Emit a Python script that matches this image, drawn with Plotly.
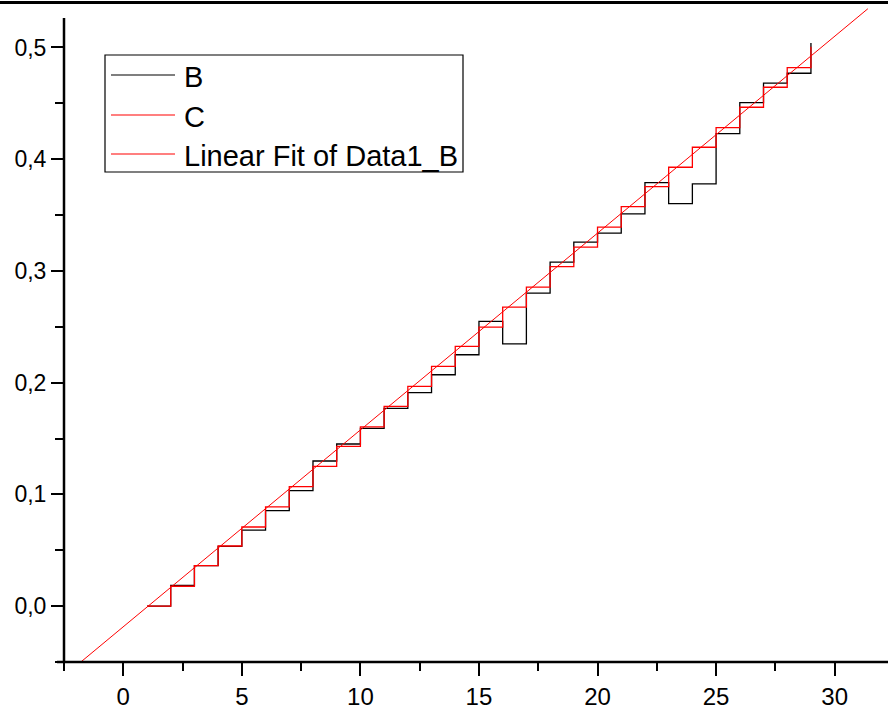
import numpy as np
import plotly.graph_objects as go

# ---- data ----
x_vals = list(range(1, 30))
b_vals = [0.000, 0.0185, 0.0362, 0.0535, 0.0680, 0.0855, 0.1033, 0.1299, 0.1451, 0.1590,
          0.1770, 0.1910, 0.2071, 0.2250, 0.2548, 0.2348, 0.2801, 0.3079, 0.3258, 0.3338,
          0.3511, 0.3791, 0.3603, 0.3779, 0.4229, 0.4506, 0.4680, 0.4769, 0.5040]
c_vals = [0.000, 0.0178, 0.0362, 0.0538, 0.0708, 0.0888, 0.1069, 0.1250, 0.1430, 0.1605,
          0.1787, 0.1966, 0.2145, 0.2324, 0.2497, 0.2676, 0.2855, 0.3039, 0.3213, 0.3392,
          0.3576, 0.3755, 0.3928, 0.4107, 0.4283, 0.4465, 0.4644, 0.4820, 0.5007]
fit_x_range = [-2.5, 31.4]

x_tick_vals = [0, 5, 10, 15, 20, 25, 30]
x_tick_text = ["0", "5", "10", "15", "20", "25", "30"]
y_tick_vals = [0.0, 0.1, 0.2, 0.3, 0.4, 0.5]
y_tick_text = ["0,0", "0,1", "0,2", "0,3", "0,4", "0,5"]

legend_names = ["B", "C", "Linear Fit of Data1_B"]

x_range = [-2.5, 32.25]
y_range = [-0.05, 0.538]
y_axis_top = 0.5264

# linear fit of B
slope, intercept = np.polyfit(x_vals, b_vals, 1)
fit_x = np.array(fit_x_range)
fit_y = slope * fit_x + intercept

fig = go.Figure()
fig.add_trace(go.Scatter(x=x_vals, y=b_vals, mode="lines", line_shape="hv",
                         line=dict(color="black", width=1.3), name=legend_names[0],
                         showlegend=False))
fig.add_trace(go.Scatter(x=x_vals, y=c_vals, mode="lines", line_shape="hv",
                         line=dict(color="#ff0000", width=1.3), name=legend_names[1],
                         showlegend=False))
fig.add_trace(go.Scatter(x=fit_x, y=fit_y, mode="lines",
                         line=dict(color="#ff0000", width=1), name=legend_names[2],
                         showlegend=False))

W, H = 888, 709
L, R, T, B = 64, 0, 5, 47
PW, PH = W - L - R, H - T - B


def px_x(px):
    return (px - L) / PW


def px_y(py):
    return (H - B - py) / PH


tick_font = dict(family="Arial, Liberation Sans, sans-serif", size=23, color="black")
xtick_font = dict(family="Arial, Liberation Sans, sans-serif", size=24, color="black")

fig.update_xaxes(range=x_range, showgrid=False, zeroline=False, showline=False,
                 tickmode="array", tickvals=x_tick_vals, ticktext=x_tick_text,
                 ticks="outside", ticklen=13, tickwidth=2, tickcolor="black",
                 tickfont=xtick_font,
                 minor=dict(tickmode="linear", tick0=0, dtick=2.5, ticks="outside",
                            ticklen=8, tickwidth=2, tickcolor="black", showgrid=False))
fig.update_yaxes(range=y_range, showgrid=False, zeroline=False, showline=False,
                 tickmode="array", tickvals=y_tick_vals, ticktext=y_tick_text,
                 ticks="outside", ticklen=12, tickwidth=2, tickcolor="black",
                 tickfont=tick_font,
                 minor=dict(tickmode="linear", tick0=0, dtick=0.05, ticks="outside",
                            ticklen=8, tickwidth=2, tickcolor="black", showgrid=False))

shapes = []
# x axis line (extends a bit left of the y axis)
shapes.append(dict(type="line", xref="paper", yref="paper", x0=px_x(57), x1=1.0,
                   y0=0, y1=0, line=dict(color="black", width=2.5)))
# y axis line
shapes.append(dict(type="line", xref="paper", yref="y", x0=0, x1=0,
                   y0=y_range[0], y1=y_axis_top, line=dict(color="black", width=2.5)))
# top border line of the image
shapes.append(dict(type="line", xref="paper", yref="paper", x0=px_x(0), x1=1.0,
                   y0=px_y(2.5), y1=px_y(2.5), line=dict(color="black", width=3)))
# legend box
shapes.append(dict(type="rect", xref="paper", yref="paper", x0=px_x(105), x1=px_x(463),
                   y0=px_y(172), y1=px_y(55), line=dict(color="black", width=1.2),
                   fillcolor="white", layer="above"))
legend_colors = ["black", "#ff0000", "#ff0000"]
legend_rows = [75, 115, 154]
annotations = []
for name, col, row in zip(legend_names, legend_colors, legend_rows):
    shapes.append(dict(type="line", xref="paper", yref="paper", x0=px_x(111), x1=px_x(175),
                       y0=px_y(row), y1=px_y(row), line=dict(color=col, width=1.2),
                       layer="above"))
    annotations.append(dict(xref="paper", yref="paper", x=px_x(182), y=px_y(row + 2),
                            xanchor="left", yanchor="middle", text=name, showarrow=False,
                            font=dict(family="Arial, Liberation Sans, sans-serif", size=29,
                                      color="black")))

fig.update_layout(width=W, height=H, margin=dict(l=L, r=R, t=T, b=B, pad=0),
                  paper_bgcolor="white", plot_bgcolor="white",
                  shapes=shapes, annotations=annotations, showlegend=False)

fig.write_html("out.html", config={"displayModeBar": False},
               post_script="document.body.style.margin='0';")
